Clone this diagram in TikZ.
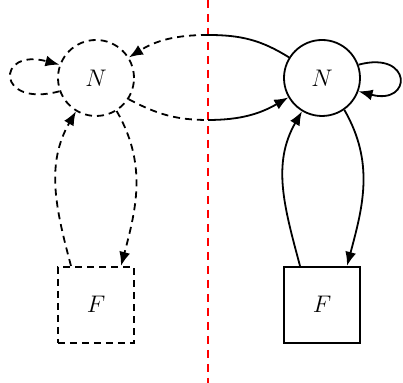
\documentclass[tikz,border=0pt]{standalone}
\usepackage{tikz}
\usetikzlibrary{arrows.meta, calc, positioning}

\begin{document}
\begin{tikzpicture}[x = .5pt, y = .5pt]%
    %
    \tikzstyle{state} = [circle, minimum size = 38pt, inner sep = 0pt, draw = black, line width = .9pt, font = \large]%
    \tikzstyle{factor} = [rectangle, minimum size = 38pt, inner sep = 0pt, draw = black, line width = .9pt, font = \large]%
    \tikzstyle{arrow} = [-{Latex[length = 7pt, width = 5.5pt]}, line width = .9pt, draw = black]%
    \tikzstyle{plain} = [line width = .9pt, draw = black]%
    \tikzstyle{ghost} = [dash pattern = on 3.5pt off 2.5pt]%
    \tikzstyle{cutline} = [draw = red, thick, dash pattern = on 4pt off 3pt]%
    %
    \useasboundingbox (0, 0) rectangle (403, 383);%
    %
    % the cut
    \coordinate (cuttop) at (208, 348);%
    \coordinate (cutbot) at (208, 263);%
    \draw [cutline] (208, 383) -- (208, 0);%
    %
    % left half (dashed copy)
    \node [state, ghost] (nl) at (96, 305) {$N$};%
    \node [factor, ghost, below = 74.5pt of nl] (fl) {$F$};%
    %
    \draw [arrow, ghost] (cuttop) to [out = 180, in = 32] (nl.32);%
    \draw [plain, ghost] (nl.-33) to [out = -28, in = 180] (cutbot);%
    \draw [arrow, ghost] (nl.200) to [out = 195, in = 165, distance = 33pt] (nl.160);%
    \draw [arrow, ghost] ([xshift = -12.5pt]fl.north) to [out = 105, in = -120] (nl.-121);%
    \draw [arrow, ghost] (nl.-58) to [out = -60, in = 75] ([xshift = 12.5pt]fl.north);%
    %
    % right half
    \node [state] (nr) at (322, 305) {$N$};%
    \node [factor, below = 74.5pt of nr] (fr) {$F$};%
    %
    \draw [plain] (cuttop) to [out = 0, in = 148] (nr.148);%
    \draw [arrow] (cutbot) to [out = 0, in = 210] (nr.210);%
    \draw [arrow] (nr.20) to [out = 15, in = -15, distance = 28pt] (nr.-20);%
    \draw [arrow] (nr.-55) to [out = -60, in = 75] ([xshift = 12.5pt]fr.north);%
    \draw [arrow] ([xshift = -11pt]fr.north) to [out = 105, in = -120] (nr.-121);%
\end{tikzpicture}
\end{document}
